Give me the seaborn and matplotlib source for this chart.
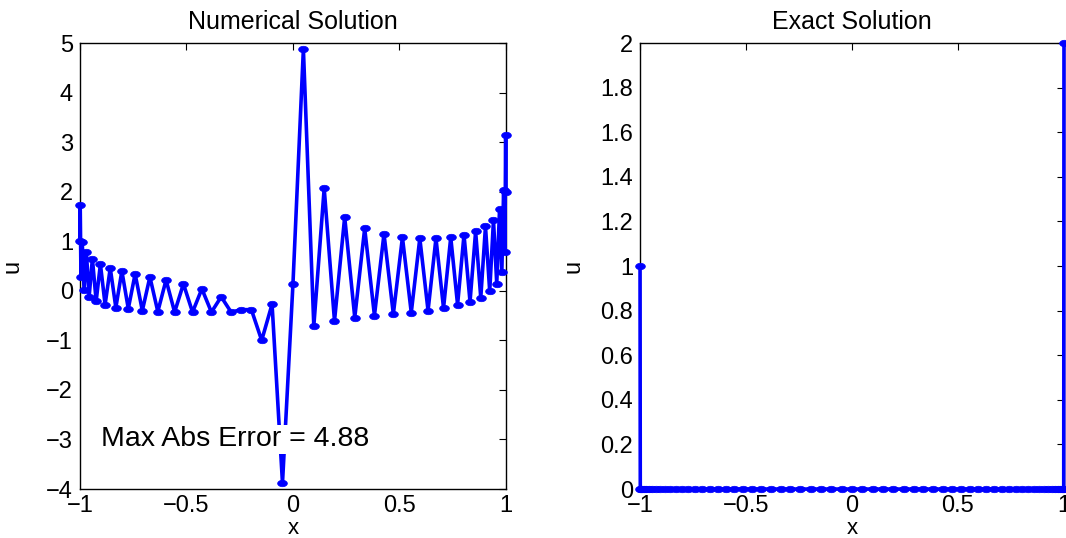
import numpy as np
import pandas as pd
import matplotlib
matplotlib.use("Agg")
import matplotlib.pyplot as plt
import seaborn as sns

# Chebyshev grid (65 nodes, ascending)
n_nodes = 65
x_nodes = -np.cos(np.pi * np.arange(n_nodes) / (n_nodes - 1))

u_numerical = [
    1.00, 1.73, 0.27, 0.98, 0.02, 0.79, -0.12, 0.65, -0.21, 0.54,
    -0.28, 0.46, -0.34, 0.40, -0.36, 0.34, -0.40, 0.28, -0.42, 0.22,
    -0.43, 0.14, -0.43, 0.04, -0.43, -0.12, -0.43, -0.38, -0.38, -1.00,
    -0.27, -3.88, 0.13, 4.88, -0.71, 2.07, -0.61, 1.49, -0.54, 1.26,
    -0.50, 1.15, -0.47, 1.08, -0.44, 1.06, -0.40, 1.06, -0.35, 1.08,
    -0.28, 1.13, -0.22, 1.20, -0.14, 1.30, -0.01, 1.43, 0.14, 1.65,
    0.37, 2.04, 0.79, 3.15, 2.00,
]
u_exact = [1.0] + [0.0] * (n_nodes - 2) + [2.0]

titles = ["Numerical Solution", "Exact Solution"]
x_ticks = [-1, -0.5, 0, 0.5, 1]
x_tick_labels = ["\u22121", "\u22120.5", "0", "0.5", "1"]
left_y_ticks = [-4, -3, -2, -1, 0, 1, 2, 3, 4, 5]
right_y_ticks = [0, 0.2, 0.4, 0.6, 0.8, 1, 1.2, 1.4, 1.6, 1.8, 2]
error_text = "Max Abs Error = 4.88"

df_num = pd.DataFrame({"x": x_nodes, "u": u_numerical})
df_ex = pd.DataFrame({"x": x_nodes, "u": u_exact})

sns.set_style("white")
plt.rcParams["font.family"] = ["Liberation Sans", "DejaVu Sans"]
plt.rcParams["axes.unicode_minus"] = True
for k in ["text.color", "axes.labelcolor", "xtick.color", "ytick.color"]:
    plt.rcParams[k] = "black"

fig = plt.figure(figsize=(10.66, 5.38), dpi=100)
ax1 = fig.add_axes([0.075, 0.091, 0.3996, 0.829])
ax2 = fig.add_axes([0.6004, 0.091, 0.3977, 0.829])

# horizontally stretched dot marker (ellipse)
t = np.linspace(0, 2 * np.pi, 40)
ellipse = list(zip(1.5 * np.cos(t), np.sin(t)))

blue = (0, 0, 1)
for ax, df in [(ax1, df_num), (ax2, df_ex)]:
    sns.lineplot(data=df, x="x", y="u", ax=ax, color=blue, linewidth=2.6,
                 marker=ellipse, markersize=7, markeredgecolor=blue,
                 markerfacecolor=blue, markeredgewidth=0.5,
                 estimator=None, sort=False, clip_on=False, zorder=3)

def fmt(v):
    s = ("%g" % v)
    return s.replace("-", "\u2212")

ax1.set_xlim(-1, 1)
ax1.set_ylim(-4, 5)
ax1.set_yticks(left_y_ticks)
ax1.set_yticklabels([fmt(v) for v in left_y_ticks])
ax2.set_xlim(-1, 1)
ax2.set_ylim(0, 2)
ax2.set_yticks(right_y_ticks)
ax2.set_yticklabels([fmt(v) for v in right_y_ticks])

for ax, title in zip([ax1, ax2], titles):
    ax.set_xticks(x_ticks)
    ax.set_xticklabels(x_tick_labels)
    ax.set_title(title, fontsize=18, pad=10)
    ax.set_xlabel("x", fontsize=16)
    ax.set_ylabel("u", fontsize=17)
    ax.xaxis.set_label_coords(0.5, -0.064)
    ax.yaxis.set_label_coords(-0.132, 0.5)
    ax.tick_params(direction="in", top=True, right=True, length=5,
                   width=0.8, labelsize=17, colors="black")
    ax.tick_params(axis="x", pad=4)
    ax.tick_params(axis="y", pad=5)
    for sp in ax.spines.values():
        sp.set_visible(True)
        sp.set_color("black")
        sp.set_linewidth(1.0)

ax1.text(-0.9, -3.0, error_text, fontsize=20.5, va="center", ha="left",
         zorder=5, bbox=dict(facecolor="white", edgecolor="none", pad=1))

fig.savefig("out.png", dpi=100)
